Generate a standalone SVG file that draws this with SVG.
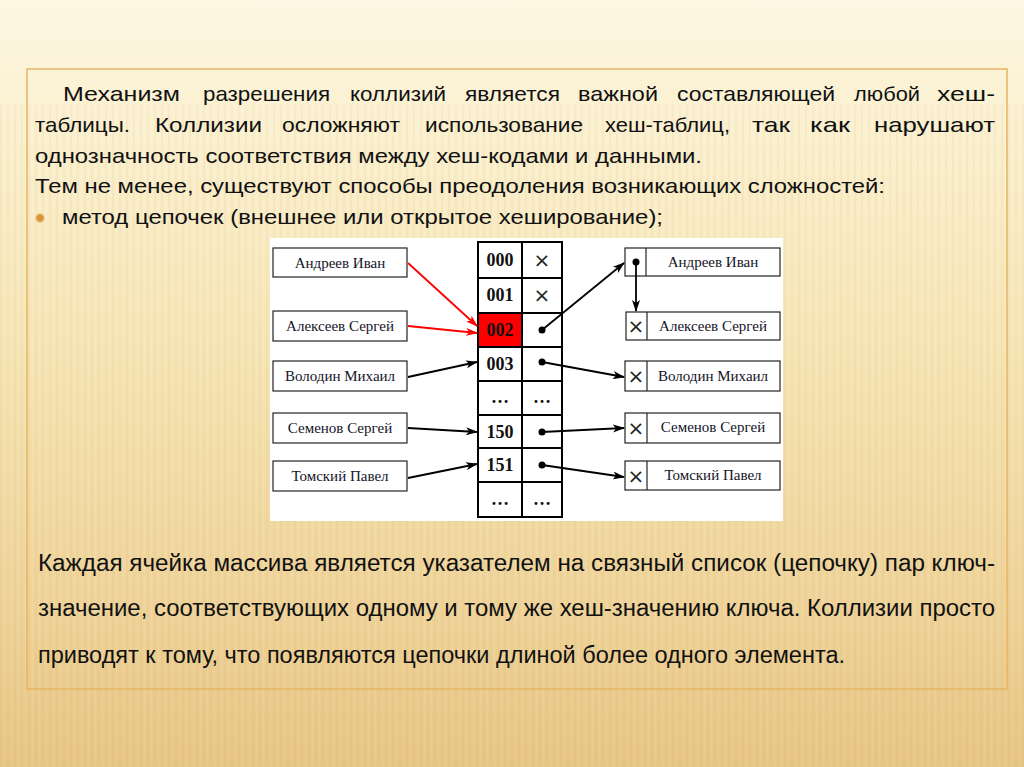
<svg xmlns="http://www.w3.org/2000/svg" width="1024" height="767" viewBox="0 0 1024 767">
<defs>
<linearGradient id="bg" x1="0" y1="0" x2="0" y2="1">
<stop offset="0" stop-color="#fdf7e3"/>
<stop offset="0.14" stop-color="#fbf1d2"/>
<stop offset="0.45" stop-color="#f6e5b6"/>
<stop offset="0.8" stop-color="#eed298"/>
<stop offset="1" stop-color="#e7c585"/>
</linearGradient>
<pattern id="stripes" width="7" height="767" patternUnits="userSpaceOnUse">
<rect x="0" y="0" width="2" height="767" fill="#c9a04a" opacity="0.08"/>
<rect x="4" y="0" width="1" height="767" fill="#ffffff" opacity="0.10"/>
</pattern>
<marker id="ab" viewBox="0 0 12 8" refX="11" refY="4" markerWidth="12" markerHeight="8" markerUnits="userSpaceOnUse" orient="auto">
<path d="M0,0 L12,4 L0,8 L3,4 Z" fill="#000"/>
</marker>
<marker id="ar" viewBox="0 0 12 8" refX="11" refY="4" markerWidth="12" markerHeight="8" markerUnits="userSpaceOnUse" orient="auto">
<path d="M0,0 L12,4 L0,8 L3,4 Z" fill="#ff0000"/>
</marker>
</defs>
<style>
.para{font-family:"Liberation Sans",Arial,sans-serif;font-size:21px;fill:#111}
.narrow{font-family:"Liberation Sans Narrow","Liberation Sans",Arial,sans-serif;font-size:23px;fill:#111}
.box{fill:#fff;stroke:#222;stroke-width:1.2}
.name{font-family:"Liberation Serif","Times New Roman",serif;font-size:15px;fill:#141428;text-anchor:middle}
.num{font-family:"Liberation Serif","Times New Roman",serif;font-size:18px;font-weight:bold;fill:#111;text-anchor:middle}
.x{font-family:"DejaVu Sans",sans-serif;font-size:20px;fill:#222;text-anchor:middle}
.cell{fill:#fff;stroke:#000;stroke-width:2}
.blk{stroke:#000;stroke-width:1.8;fill:none;marker-end:url(#ab)}
.red{stroke:#ff0000;stroke-width:1.8;fill:none;marker-end:url(#ar)}
</style>
<rect width="1024" height="767" fill="url(#bg)"/>
<rect x="0" y="105" width="1024" height="662" fill="url(#stripes)"/>
<rect x="27" y="69" width="980" height="620" fill="none" stroke="#e6b564" stroke-width="1.5"/>

<g id="text-top" class="para">
<text x="63" y="101" textLength="117" lengthAdjust="spacingAndGlyphs">Механизм</text>
<text x="203" y="101" textLength="127" lengthAdjust="spacingAndGlyphs">разрешения</text>
<text x="350" y="101" textLength="96" lengthAdjust="spacingAndGlyphs">коллизий</text>
<text x="465" y="101" textLength="95" lengthAdjust="spacingAndGlyphs">является</text>
<text x="578" y="101" textLength="80" lengthAdjust="spacingAndGlyphs">важной</text>
<text x="677" y="101" textLength="158" lengthAdjust="spacingAndGlyphs">составляющей</text>
<text x="854" y="101" textLength="66" lengthAdjust="spacingAndGlyphs">любой</text>
<text x="937" y="101" textLength="58" lengthAdjust="spacingAndGlyphs">хеш-</text>
<text x="35" y="132" textLength="95" lengthAdjust="spacingAndGlyphs">таблицы.</text>
<text x="155" y="132" textLength="107" lengthAdjust="spacingAndGlyphs">Коллизии</text>
<text x="282" y="132" textLength="118" lengthAdjust="spacingAndGlyphs">осложняют</text>
<text x="425" y="132" textLength="158" lengthAdjust="spacingAndGlyphs">использование</text>
<text x="605" y="132" textLength="125" lengthAdjust="spacingAndGlyphs">хеш-таблиц,</text>
<text x="752" y="132" textLength="38" lengthAdjust="spacingAndGlyphs">так</text>
<text x="810" y="132" textLength="40" lengthAdjust="spacingAndGlyphs">как</text>
<text x="874" y="132" textLength="121" lengthAdjust="spacingAndGlyphs">нарушают</text>
<text x="35" y="163" textLength="667" lengthAdjust="spacingAndGlyphs">однозначность соответствия между хеш-кодами и данными.</text>
<text x="35" y="193" textLength="850" lengthAdjust="spacingAndGlyphs">Тем не менее, существуют способы преодоления возникающих сложностей:</text>
<circle cx="40" cy="218" r="4.2" fill="#d8963a" stroke="#f3c98a" stroke-width="1"/>
<text x="62" y="224" textLength="601" lengthAdjust="spacingAndGlyphs">метод цепочек (внешнее или открытое хеширование);</text>
</g>

<g id="figure">
<rect x="270" y="238" width="513" height="283" fill="#fff"/>
</g>

<g id="keys">
<g id="k1"><rect class="box" x="273" y="248" width="134" height="29"/><text class="name" x="340" y="268">Андреев Иван</text></g>
<g id="k2"><rect class="box" x="273" y="311" width="134" height="30"/><text class="name" x="340" y="331">Алексеев Сергей</text></g>
<g id="k3"><rect class="box" x="273" y="361" width="134" height="30"/><text class="name" x="340" y="381">Володин Михаил</text></g>
<g id="k4"><rect class="box" x="273" y="413" width="134" height="30"/><text class="name" x="340" y="433">Семенов Сергей</text></g>
<g id="k5"><rect class="box" x="273" y="461" width="134" height="30"/><text class="name" x="340" y="481">Томский Павел</text></g>
</g>

<g id="table">
<rect class="cell" x="478" y="242" width="84" height="275"/>
<rect x="479" y="313" width="43" height="34" fill="#ff0000"/>
<g stroke="#000" stroke-width="2">
<line x1="522" y1="242" x2="522" y2="517"/>
<line x1="478" y1="278" x2="562" y2="278"/>
<line x1="478" y1="313" x2="562" y2="313"/>
<line x1="478" y1="347" x2="562" y2="347"/>
<line x1="478" y1="381" x2="562" y2="381"/>
<line x1="478" y1="415" x2="562" y2="415"/>
<line x1="478" y1="448" x2="562" y2="448"/>
<line x1="478" y1="482" x2="562" y2="482"/>
</g>
<text class="num" x="500" y="266">000</text>
<text class="num" x="500" y="301">001</text>
<text class="num" x="500" y="336" fill="#3a0000">002</text>
<text class="num" x="500" y="370">003</text>
<text class="num" x="500" y="403">…</text>
<text class="num" x="500" y="438">150</text>
<text class="num" x="500" y="471">151</text>
<text class="num" x="500" y="505">…</text>
<text class="x" x="542" y="267">×</text>
<text class="x" x="542" y="302">×</text>
<text class="num" x="542" y="403">…</text>
<text class="num" x="542" y="505">…</text>
<circle cx="542" cy="330" r="3.5"/>
<circle cx="542" cy="362" r="3.5"/>
<circle cx="542" cy="432" r="3.5"/>
<circle cx="542" cy="465" r="3.5"/>
</g>

<g id="chain">
<g id="c1"><rect class="box" x="625" y="248" width="155" height="28"/><line x1="646" y1="248" x2="646" y2="276" stroke="#222" stroke-width="1.2"/><circle cx="636" cy="262" r="3.5"/><text class="name" x="713" y="267">Андреев Иван</text></g>
<g id="c2"><rect class="box" x="626" y="312" width="154" height="28"/><line x1="647" y1="312" x2="647" y2="340" stroke="#222" stroke-width="1.2"/><text class="x" x="636" y="333">×</text><text class="name" x="713" y="331">Алексеев Сергей</text></g>
<g id="c3"><rect class="box" x="625" y="361" width="155" height="30"/><line x1="647" y1="361" x2="647" y2="391" stroke="#222" stroke-width="1.2"/><text class="x" x="636" y="383">×</text><text class="name" x="713" y="381">Володин Михаил</text></g>
<g id="c4"><rect class="box" x="625" y="413" width="155" height="30"/><line x1="647" y1="413" x2="647" y2="443" stroke="#222" stroke-width="1.2"/><text class="x" x="636" y="435">×</text><text class="name" x="713" y="432">Семенов Сергей</text></g>
<g id="c5"><rect class="box" x="625" y="461" width="155" height="29"/><line x1="647" y1="461" x2="647" y2="490" stroke="#222" stroke-width="1.2"/><text class="x" x="636" y="483">×</text><text class="name" x="713" y="480">Томский Павел</text></g>
</g>

<g id="connectors">
<line class="red" x1="408" y1="263" x2="477" y2="326"/>
<line class="red" x1="408" y1="326" x2="477" y2="333"/>
<line class="blk" x1="408" y1="377" x2="477" y2="362"/>
<line class="blk" x1="408" y1="428" x2="477" y2="432"/>
<line class="blk" x1="408" y1="478" x2="477" y2="464"/>
<line class="blk" x1="542" y1="330" x2="624" y2="263"/>
<line class="blk" x1="542" y1="362" x2="624" y2="377"/>
<line class="blk" x1="542" y1="432" x2="624" y2="428"/>
<line class="blk" x1="542" y1="465" x2="624" y2="477"/>
<line class="blk" x1="636" y1="262" x2="636" y2="311"/>
</g>

<g id="text-bottom">
<text class="narrow" x="38" y="571" textLength="957" lengthAdjust="spacingAndGlyphs">Каждая ячейка массива является указателем на связный список (цепочку) пар ключ-</text>
<text class="narrow" x="38" y="616" textLength="957" lengthAdjust="spacingAndGlyphs">значение, соответствующих одному и тому же хеш-значению ключа. Коллизии просто</text>
<text class="narrow" x="38" y="663" textLength="807" lengthAdjust="spacingAndGlyphs">приводят к тому, что появляются цепочки длиной более одного элемента.</text>
</g>
</svg>
